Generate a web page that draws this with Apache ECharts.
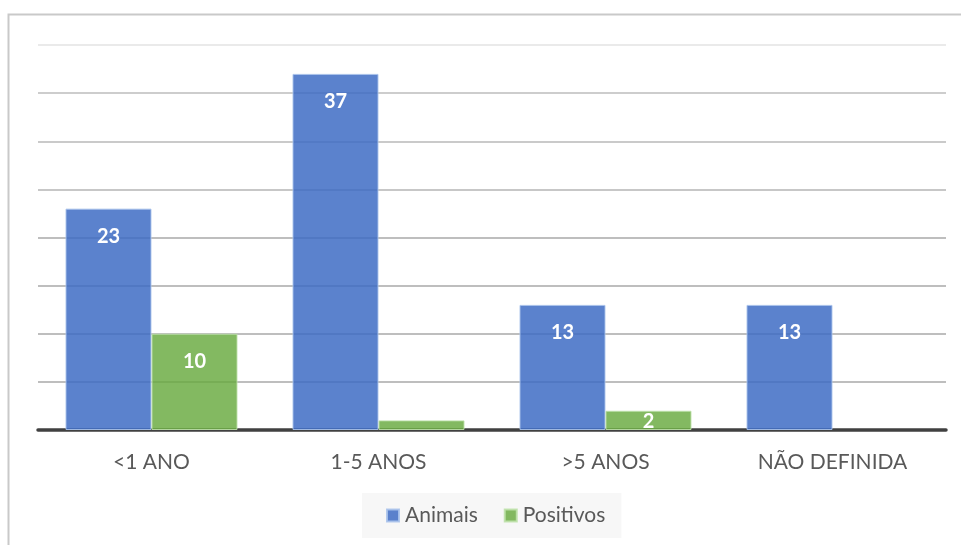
<!DOCTYPE html>
<html>
<head>
<meta charset="utf-8">
<script src="https://cdn.jsdelivr.net/npm/echarts@6/dist/echarts.min.js"></script>
<style>
  html, body { margin: 0; padding: 0; background: #ffffff; }
  #chart { width: 961px; height: 545px; }
</style>
</head>
<body>
<div id="chart"></div>
<script>
// Faixas etárias e contagens
const categories = ['<1 ANO', '1-5 ANOS', '>5 ANOS', 'NÃO DEFINIDA'];
const animais = [23, 37, 13, 13];
const positivos = [10, 1, 2, null];
const positivosLabelShown = [true, false, true, false];
const yMax = 40;
const yInterval = 5;

const FONT = 'Lato, "Open Sans", sans-serif';

const labelBase = {
  show: true,
  position: 'insideTop',
  distance: 18,
  color: '#ffffff',
  fontFamily: FONT,
  fontWeight: 'bold',
  fontSize: 20
};

const positivosData = positivos.map((v, i) => {
  const item = { value: v };
  if (!positivosLabelShown[i]) {
    item.label = { show: false };
  } else if (v !== null && v < 4) {
    item.label = { distance: 1 };
  }
  return item;
});

const chart = echarts.init(document.getElementById('chart'), null, { renderer: 'canvas' });

chart.setOption({
  animation: false,
  backgroundColor: '#ffffff',
  graphic: [
    {
      type: 'rect',
      shape: { x: 8.5, y: 14.5, width: 1000, height: 600 },
      style: { fill: 'none', stroke: '#c9c9c9', lineWidth: 2 },
      z: -10
    }
  ],
  grid: { left: 38, right: 15, top: 45, bottom: 115 },
  legend: {
    bottom: 7,
    left: 362,
    data: ['Animais', 'Positivos'],
    icon: 'rect',
    itemWidth: 12,
    itemHeight: 12,
    itemGap: 26,
    backgroundColor: '#f7f7f7',
    padding: [12, 16, 12, 24],
    textStyle: { color: '#595959', fontFamily: FONT, fontSize: 21, padding: [0, 0, 0, 1] }
  },
  xAxis: {
    type: 'category',
    data: categories,
    axisTick: { show: false },
    axisLine: { lineStyle: { color: '#404040', width: 3.5 } },
    axisLabel: { color: '#595959', fontFamily: FONT, fontSize: 21, margin: 22 }
  },
  yAxis: {
    type: 'value',
    min: 0,
    max: yMax,
    interval: yInterval,
    axisLabel: { show: false },
    axisLine: { show: false },
    axisTick: { show: false },
    splitLine: {
      lineStyle: {
        color: ['#a8a8a8', '#a8a8a8', '#a8a8a8', '#a8a8a8', '#a8a8a8', '#b4b4b4', '#b8b8b8', '#bcbcbc', '#e3e3e3'],
        width: 1.5
      }
    }
  },
  series: [
    {
      name: 'Animais',
      type: 'bar',
      data: animais,
      barWidth: 86,
      barGap: '0%',
      itemStyle: { color: 'rgba(59,106,196,0.84)', borderColor: 'rgba(170,195,235,0.9)', borderWidth: 1 },
      label: labelBase
    },
    {
      name: 'Positivos',
      type: 'bar',
      data: positivosData,
      barWidth: 86,
      barGap: '0%',
      itemStyle: { color: 'rgba(104,170,62,0.82)', borderColor: 'rgba(190,225,170,0.9)', borderWidth: 1 },
      label: labelBase
    }
  ]
});
</script>
</body>
</html>
